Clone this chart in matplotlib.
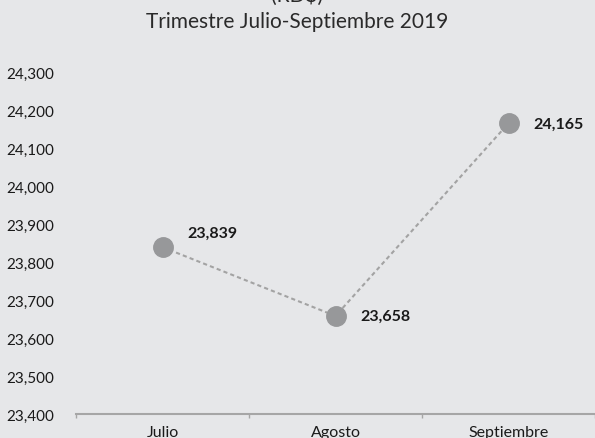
import matplotlib.pyplot as plt
from matplotlib.ticker import FuncFormatter, FixedLocator

# datos
meses = ["Julio", "Agosto", "Septiembre"]
valores = [23839, 23658, 24165]
yticks = [23400, 23500, 23600, 23700, 23800, 23900, 24000, 24100, 24200, 24300]

bg = "#e6e7e9"
plt.rcParams["font.family"] = ["Lato", "DejaVu Sans"]

fig = plt.figure(figsize=(5.95, 4.39), dpi=100, facecolor=bg)
ax = fig.add_axes([76 / 595, 1 - 415 / 439, 1 - 76 / 595, (415 - 73) / 439])
ax.set_facecolor(bg)

x = list(range(len(meses)))
ax.plot(x, valores, linestyle=(0, (2, 1.5)), color="#a3a3a3", linewidth=1.5,
        marker="o", markersize=14, markerfacecolor="#97989a",
        markeredgecolor="#97989a", zorder=3)

for xi, v in zip(x, valores):
    dy = 10 if xi == 0 else 0
    ax.annotate(f"{v:,}", (xi, v), xytext=(18, dy), textcoords="offset points",
                ha="left", va="center", fontsize=11.5, fontweight="bold",
                color="#1a1a1a")

ax.set_xlim(-0.5, 2.5)
ax.set_ylim(23400, 24300)
ax.set_xticks(x)
ax.set_xticklabels(meses)
ax.xaxis.set_minor_locator(FixedLocator([-0.5, 0.5, 1.5, 2.5]))
ax.tick_params(axis="x", which="major", length=0, pad=8, labelsize=11.5,
               labelcolor="#1a1a1a")
ax.tick_params(axis="x", which="minor", length=3, color="#a6a6a6", width=1)
ax.set_yticks(yticks)
ax.yaxis.set_major_formatter(FuncFormatter(lambda v, p: f"{int(v):,}"))
ax.tick_params(axis="y", length=0, pad=16, labelsize=11, labelcolor="#1a1a1a")

for s in ["top", "right", "left"]:
    ax.spines[s].set_visible(False)
ax.spines["bottom"].set_color("#a6a6a6")
ax.spines["bottom"].set_linewidth(1.5)
ax.spines["bottom"].set_zorder(0)

fig.text(0.5, 1 + 4 / 439, "(RD$)", ha="center", va="center", fontsize=15,
         color="#2a2a2a")
fig.text(0.5, 1 - 22 / 439, "Trimestre Julio-Septiembre 2019", ha="center",
         va="center", fontsize=15, color="#2a2a2a")

fig.savefig("out.png", dpi=100, facecolor=bg)
